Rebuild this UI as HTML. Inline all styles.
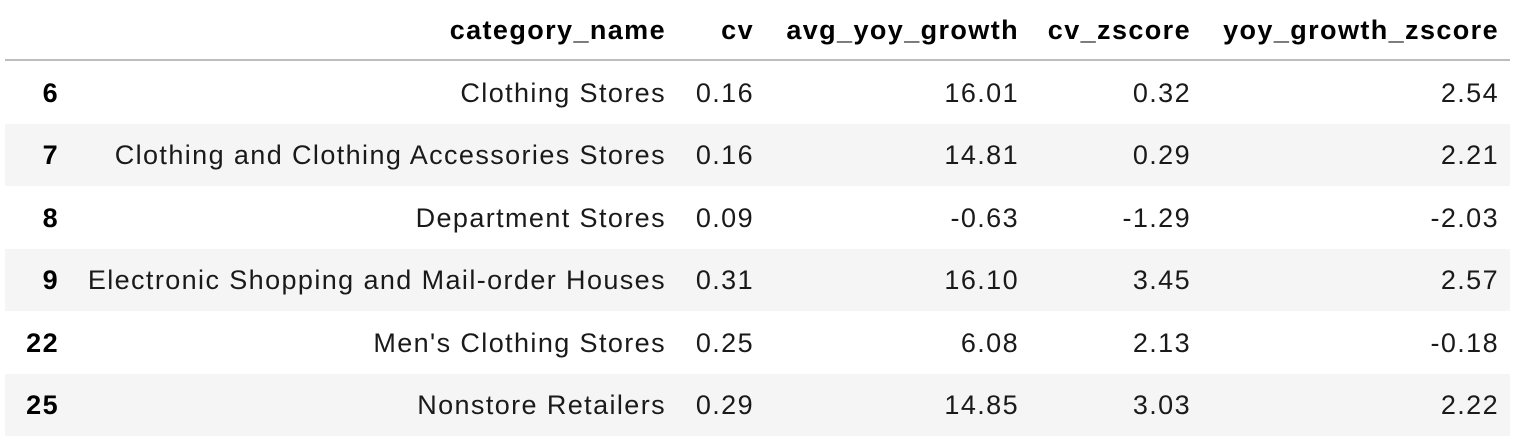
<!DOCTYPE html>
<html><head><meta charset="utf-8">
<style>
body{margin:0;width:1526px;height:440px;background:#fff;font-family:"Liberation Sans",Arial,sans-serif;color:#1a1a1a;overflow:hidden;position:relative}
.row{position:absolute;left:5px;width:1505px;height:62px}
.shade{background:#f5f5f5}
.c{position:absolute;font-size:27px;letter-spacing:1.4px;line-height:62px;text-align:right;white-space:nowrap;top:0}
.h .c{line-height:60px;font-weight:bold;color:#000}
.idx{font-weight:bold;color:#000}
#hline{position:absolute;left:5px;top:59px;width:1505px;height:2px;background:#bdbdbd}
</style></head><body>
<div class="row h" style="top:0">
 <div class="c" style="right:844px">category_name</div>
 <div class="c" style="right:756px">cv</div>
 <div class="c" style="right:491px">avg_yoy_growth</div>
 <div class="c" style="right:319px">cv_zscore</div>
 <div class="c" style="right:11px">yoy_growth_zscore</div>
</div>
<div id="hline"></div>
<div id="body"></div>
<script>
const idx=["6","7","8","9","22","25"];
const names=["Clothing Stores","Clothing and Clothing Accessories Stores","Department Stores","Electronic Shopping and Mail-order Houses","Men's Clothing Stores","Nonstore Retailers"];
const cv=["0.16","0.16","0.09","0.31","0.25","0.29"];
const growth=["16.01","14.81","-0.63","16.10","6.08","14.85"];
const cvz=["0.32","0.29","-1.29","3.45","2.13","3.03"];
const yz=["2.54","2.21","-2.03","2.57","-0.18","2.22"];
const body=document.getElementById('body');
const cols=[[idx,1453,'index'],[names,844,'category-name'],[cv,756,'cv'],[growth,491,'avg-yoy-growth'],[cvz,319,'cv-zscore'],[yz,11,'yoy-growth-zscore']];
for(let i=0;i<idx.length;i++){
 const r=document.createElement('div');
 r.className='row'+(i%2?' shade':'');
 r.style.top=(62+i*62.4)+'px';
 
 
 cols.forEach(([arr,right,nm],j)=>{
  const c=document.createElement('div');
  c.className='c'+(j===0?' idx':'');
  c.style.right=right+'px';
  if(j===0){c.style.right='';c.style.left='0';c.style.width='54px';}
  c.textContent=arr[i];
  
  
  r.appendChild(c);
 });
 body.appendChild(r);
}
</script>
</body></html>
